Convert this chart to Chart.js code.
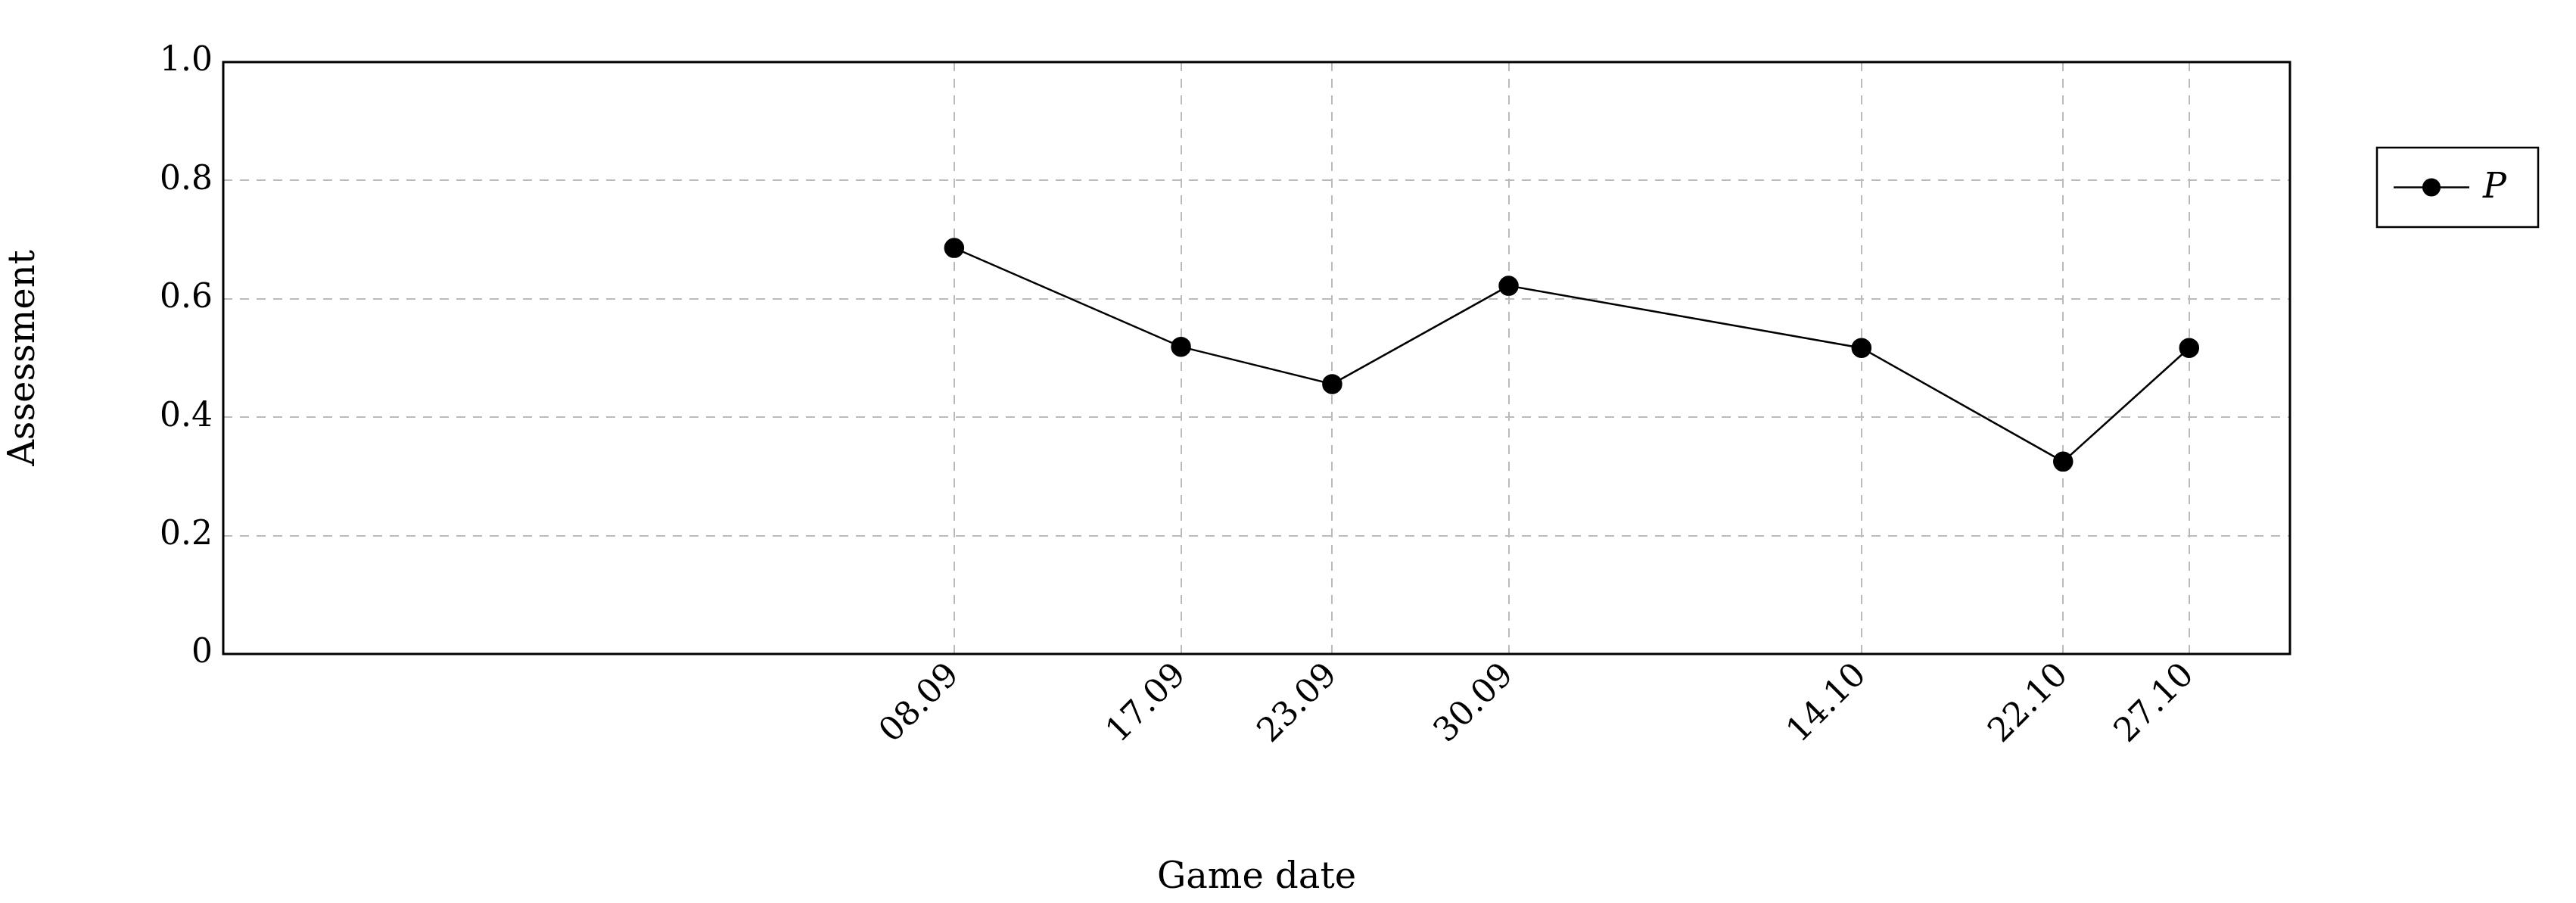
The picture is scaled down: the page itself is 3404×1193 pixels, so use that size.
<!DOCTYPE html>
<html>
<head>
<meta charset="utf-8">
<script src="https://cdn.jsdelivr.net/npm/chart.js@4/dist/chart.umd.min.js"></script>
<style>
   html, body { margin: 0; padding: 0; background: #fff; }
   #wrap { width: 3404px; height: 1193px; }
</style>
</head>
<body>
<div id="wrap"><canvas id="myChart" width="3404" height="1193"></canvas></div>
<script>
// days counted from 08.09
const dayOffsets = [0, 9, 15, 22, 36, 44, 49];
const dateLabels = ['08.09', '17.09', '23.09', '30.09', '14.10', '22.10', '27.10'];
const assessP = [0.686, 0.519, 0.456, 0.622, 0.517, 0.325, 0.517];

const font = "'DejaVu Serif', 'Liberation Serif', serif";

const points = dayOffsets.map((d, i) => ({ x: d, y: assessP[i] }));

const frameAndLegend = {
   id: 'frameAndLegend',
   afterDraw(chart) {
      const ctx = chart.ctx, a = chart.chartArea;
      ctx.save();
      ctx.strokeStyle = '#000';
      ctx.lineWidth = 3;
      ctx.strokeRect(a.left, a.top, a.right - a.left, a.bottom - a.top);
      // legend box
      const lx = 3141, ly = 195, lw = 213, lh = 105;
      ctx.lineWidth = 2.5;
      ctx.strokeRect(lx, ly, lw, lh);
      ctx.beginPath();
      ctx.moveTo(lx + 22, ly + lh / 2);
      ctx.lineTo(lx + 122, ly + lh / 2);
      ctx.lineWidth = 2.5;
      ctx.stroke();
      ctx.beginPath();
      ctx.arc(lx + 72, ly + lh / 2, 12, 0, Math.PI * 2);
      ctx.fillStyle = '#000';
      ctx.fill();
      ctx.font = 'italic 46px ' + font;
      ctx.textBaseline = 'middle';
      ctx.fillText('P', lx + 140, ly + lh / 2 + 2);
      ctx.restore();
   }
};

new Chart(document.getElementById('myChart').getContext('2d'), {
   type: 'line',
   data: {
      datasets: [
         {
            label: 'P',
            data: points,
            borderColor: '#000',
            backgroundColor: '#000',
            borderWidth: 2.5,
            pointRadius: 12,
            pointHoverRadius: 12,
            fill: false,
            tension: 0,
         },
      ],
   },
   options: {
      responsive: false,
      animation: false,
      layout: { padding: { left: 0, right: 378, top: 82, bottom: 0 } },
      plugins: { legend: { display: false }, tooltip: { enabled: false } },
      scales: {
         x: {
            type: 'linear',
            min: -29,
            max: 53,
            afterBuildTicks: scale => { scale.ticks = dayOffsets.map(v => ({ value: v })); },
            afterFit: scale => { scale.height = 329; },
            ticks: {
               minRotation: 45,
               maxRotation: 45,
               color: '#000',
               font: { family: font, size: 44 },
               callback: (v) => dateLabels[dayOffsets.indexOf(v)],
            },
            grid: { color: '#bbb', lineWidth: 2, drawTicks: false },
            border: { display: false, dash: [12, 10] },
            title: {
               display: true,
               text: 'Game date',
               color: '#000',
               font: { family: font, size: 48 },
               padding: { top: 40 },
            },
         },
         y: {
            min: 0,
            max: 1,
            afterFit: scale => { scale.width = 295; },
            ticks: {
               stepSize: 0.2,
               color: '#000',
               padding: 14,
               font: { family: font, size: 44 },
            },
            grid: { color: '#bbb', lineWidth: 2, drawTicks: false },
            border: { display: false, dash: [12, 10] },
            title: {
               display: true,
               text: 'Assessment',
               color: '#000',
               font: { family: font, size: 48 },
               padding: { bottom: 60 },
            },
         },
      },
   },
   plugins: [frameAndLegend],
});
</script>
</body>
</html>
